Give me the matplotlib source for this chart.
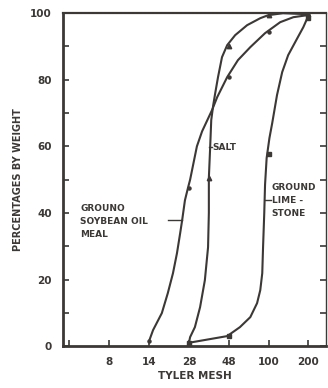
import numpy as np
import matplotlib
matplotlib.use("Agg")
import matplotlib.pyplot as plt

# x positions: one unit per labelled Tyler sieve (4, 8, 14, 28, 48, 100, 200)
mesh_labels = ["", "8", "14", "28", "48", "100", "200"]

# curves (x in sieve units, y in percent)
soy_x = [2.0, 2.10, 2.32, 2.47, 2.60, 2.70, 2.78, 2.83, 2.90, 2.98, 3.03, 3.20,
         3.33, 3.58, 3.71, 3.96, 4.23, 4.54, 4.91, 5.29, 5.62, 5.97]
soy_y = [1.5, 4.8, 9.9, 15.9, 21.9, 27.9, 33.9, 37.8, 43.8, 47.7, 50.0, 60.0,
         64.5, 70.9, 74.8, 80.8, 85.9, 89.8, 94.0, 97.3, 98.8, 99.4]

salt_x = [3.0, 3.03, 3.15, 3.28, 3.40, 3.48, 3.50, 3.50, 3.53, 3.56, 3.61, 3.66,
          3.73, 3.83, 3.96, 4.16, 4.46, 4.79, 4.99, 5.36, 5.97]
salt_y = [1.0, 2.7, 5.7, 11.7, 19.8, 29.7, 40.0, 50.5, 58.9, 67.9, 72.4, 76.0,
          80.8, 86.8, 90.4, 93.4, 96.4, 98.5, 99.4, 100.0, 99.7]

lime_x = [3.0, 3.96, 4.28, 4.54, 4.71, 4.79, 4.84, 4.86, 4.89, 4.91, 4.95, 5.02,
          5.09, 5.21, 5.34, 5.49, 5.72, 5.87, 5.97]
lime_y = [1.0, 3.0, 5.7, 8.7, 12.9, 16.8, 21.9, 29.7, 39.9, 48.5, 56.5, 62.5,
          67.0, 75.4, 82.3, 87.4, 92.5, 95.8, 98.5]

# plotted sieve points
soy_pts_x = [2, 3, 4, 5, 6]
soy_pts_y = [1.5, 47.5, 80.8, 94.3, 99.4]
salt_pts_x = [3, 3.5, 4, 5, 6]
salt_pts_y = [1.0, 50.5, 90.2, 99.4, 99.7]
lime_pts_x = [3, 4, 5, 6]
lime_pts_y = [1.0, 3.0, 57.7, 98.5]

ink = "#3b3836"

fig = plt.figure(figsize=(3.28, 3.88), dpi=100)
ax = fig.add_axes([0.192, 0.108, 0.802, 0.858])

ax.plot(soy_x, soy_y, color=ink, lw=1.5)
ax.plot(salt_x, salt_y, color=ink, lw=1.5)
ax.plot(lime_x, lime_y, color=ink, lw=1.5)
ax.plot(soy_pts_x, soy_pts_y, "o", color=ink, ms=2.2)
ax.plot(salt_pts_x, salt_pts_y, "^", color=ink, ms=3.2)
ax.plot(lime_pts_x, lime_pts_y, "s", color=ink, ms=2.2)

ax.set_xlim(-0.16, 6.44)
ax.set_ylim(0, 100)

ax.set_xticks(range(len(mesh_labels)))
ax.set_xticklabels(mesh_labels)
ax.set_yticks([0, 20, 40, 60, 80, 100])
ax.set_yticks(range(10, 100, 20), minor=True)
ax.tick_params(axis="both", which="both", direction="in", colors=ink,
               labelcolor=ink, labelsize=7.5, width=1.2, length=4)
ax.tick_params(axis="y", which="both", right=True)
ax.tick_params(axis="x", pad=8)
ax.tick_params(axis="y", pad=8)
for lab in ax.get_xticklabels() + ax.get_yticklabels():
    lab.set_fontweight("bold")

for side, w in [("left", 2.0), ("bottom", 2.0), ("top", 1.6), ("right", 1.0)]:
    ax.spines[side].set_linewidth(w)
    ax.spines[side].set_color(ink)

ax.set_ylabel("PERCENTAGES BY WEIGHT", fontsize=7, fontweight="bold",
              color=ink, labelpad=5)
ax.set_xlabel("TYLER MESH", fontsize=7.5, fontweight="bold", color=ink,
              labelpad=3)

txt = dict(fontsize=6.5, fontweight="bold", color=ink, va="center",
           linespacing=1.6)
ax.text(3.58, 59.8, "SALT", **txt)
ax.plot([3.5, 3.57], [59.8, 59.8], color=ink, lw=1)
ax.text(0.27, 37.5, "GROUNO\nSOYBEAN OIL\nMEAL", **txt)
ax.plot([2.47, 2.83], [37.8, 37.8], color=ink, lw=1)
ax.text(5.08, 43.8, "GROUND\nLIME -\nSTONE", **txt)
ax.plot([4.90, 5.06], [43.8, 43.8], color=ink, lw=1)

fig.savefig("out.png", dpi=100)
